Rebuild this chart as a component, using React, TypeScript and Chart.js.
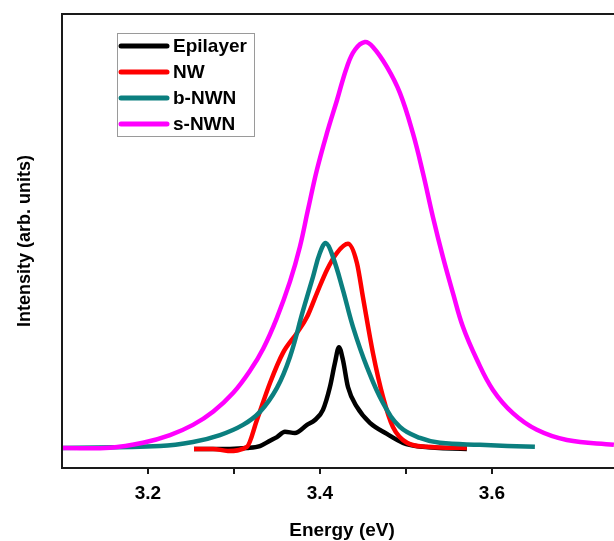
import React, { useEffect, useRef } from "react";
import { Chart, registerables } from "chart.js";

Chart.register(...registerables);

const seriesNames = ["Epilayer", "NW", "b-NWN", "s-NWN"];
const seriesColors = ["#000000", "#ff0000", "#0b7f7f", "#ff00ff"];

const energyEpi = [3.2535, 3.2953, 3.3151, 3.3302, 3.3419, 3.35, 3.3593, 3.3709, 3.3849, 3.3942, 3.4035, 3.4116, 3.4174, 3.4221, 3.4267, 3.4326, 3.443, 3.4581, 3.4779, 3.4965, 3.5198, 3.5709];
const intensityEpi = [0.0, 0.0, 0.002, 0.007, 0.02, 0.029, 0.042, 0.039, 0.059, 0.071, 0.096, 0.152, 0.211, 0.25, 0.219, 0.152, 0.103, 0.064, 0.037, 0.015, 0.005, 0.0];

const energyNW = [3.2535, 3.2756, 3.293, 3.3151, 3.3267, 3.3419, 3.357, 3.3733, 3.3849, 3.3965, 3.4081, 3.4198, 3.4326, 3.443, 3.45, 3.4616, 3.4733, 3.4849, 3.5012, 3.5244, 3.5709];
const intensityNW = [0.0, 0.0, -0.005, 0.005, 0.071, 0.162, 0.236, 0.285, 0.324, 0.383, 0.44, 0.482, 0.504, 0.457, 0.373, 0.236, 0.128, 0.054, 0.015, 0.005, 0.002];

const energyBNWN = [3.1, 3.214, 3.2523, 3.2837, 3.3105, 3.3302, 3.35, 3.3651, 3.3802, 3.3919, 3.4, 3.407, 3.4151, 3.4267, 3.4384, 3.4547, 3.4733, 3.493, 3.5163, 3.5395, 3.586, 3.65];
const intensityBNWN = [0.002, 0.007, 0.017, 0.034, 0.059, 0.091, 0.15, 0.226, 0.339, 0.423, 0.482, 0.506, 0.472, 0.391, 0.3, 0.201, 0.113, 0.054, 0.027, 0.015, 0.01, 0.005];

const energySNWN = [3.1, 3.1558, 3.1942, 3.2256, 3.2523, 3.276, 3.2992, 3.3186, 3.3341, 3.3497, 3.3651, 3.3767, 3.386, 3.3965, 3.4081, 3.4198, 3.4314, 3.4407, 3.4523, 3.4616, 3.4779, 3.493, 3.5081, 3.5198, 3.5314, 3.543, 3.5547, 3.5663, 3.5826, 3.6012, 3.6244, 3.6523, 3.6872, 3.7419];
const intensitySNWN = [0.002, 0.003, 0.015, 0.034, 0.059, 0.092, 0.138, 0.192, 0.247, 0.321, 0.411, 0.497, 0.587, 0.686, 0.776, 0.857, 0.939, 0.981, 1.0, 0.988, 0.939, 0.875, 0.776, 0.678, 0.57, 0.472, 0.383, 0.3, 0.219, 0.145, 0.088, 0.047, 0.022, 0.01];

const energyTickLabels = ["3.2", "3.4", "3.6"];

const X_MIN = 3.1;
const X_MAX = 3.742;
const Y_MIN = -0.047;
const Y_MAX = 1.069;

const FONT = '"Liberation Sans", Arial, sans-serif';

const framePlugin = {
  id: "framePlugin",
  afterDraw(chart: any) {
    const { ctx, chartArea } = chart;
    ctx.save();
    ctx.strokeStyle = "#1a1a1a";
    ctx.lineWidth = 2;
    ctx.beginPath();
    ctx.moveTo(chartArea.left, chartArea.bottom);
    ctx.lineTo(chartArea.left, chartArea.top);
    ctx.lineTo(chartArea.right + 2, chartArea.top);
    ctx.stroke();

    ctx.fillStyle = "#000";
    ctx.font = `bold 19px ${FONT}`;
    ctx.textAlign = "center";
    ctx.textBaseline = "alphabetic";
    ctx.fillText("Energy (eV)", 342, 536);

    ctx.save();
    ctx.translate(30, (chartArea.top + chartArea.bottom) / 2);
    ctx.rotate(-Math.PI / 2);
    ctx.font = `bold 18px ${FONT}`;
    ctx.fillText("Intensity (arb. units)", 0, 0);
    ctx.restore();

    const bx = 117, by = 33, bw = 137, bh = 103;
    ctx.strokeStyle = "#9a9a9a";
    ctx.lineWidth = 1;
    ctx.strokeRect(bx + 0.5, by + 0.5, bw, bh);
    const rows = [46, 72, 98, 124];
    ctx.font = `bold 19px ${FONT}`;
    ctx.textAlign = "left";
    ctx.textBaseline = "middle";
    chart.data.datasets.forEach((ds: any, i: number) => {
      const y = rows[i];
      ctx.strokeStyle = ds.borderColor;
      ctx.lineWidth = 5;
      ctx.lineCap = "round";
      ctx.beginPath();
      ctx.moveTo(121, y);
      ctx.lineTo(167, y);
      ctx.stroke();
      ctx.fillStyle = "#000";
      ctx.fillText(ds.label, 173, y + 1);
    });
    ctx.restore();
  },
};

export default function App() {
  const ref = useRef<HTMLCanvasElement | null>(null);
  useEffect(() => {
    document.body.style.margin = "0";
    document.body.style.overflow = "hidden";
    const xs = [energyEpi, energyNW, energyBNWN, energySNWN];
    const ys = [intensityEpi, intensityNW, intensityBNWN, intensitySNWN];
    const datasets = seriesNames.map((name, i) => ({
      label: name,
      data: xs[i].map((e, j) => ({ x: e, y: ys[i][j] })),
      borderColor: seriesColors[i],
      backgroundColor: seriesColors[i],
      borderWidth: 4.5,
      pointRadius: 0,
      fill: false,
      ...(i >= 2 ? { tension: 0.4 } : { cubicInterpolationMode: "monotone" as const }),
      order: 4 - i,
    }));
    const chart = new Chart(ref.current as HTMLCanvasElement, {
      type: "line",
      data: { datasets },
      options: {
        animation: false,
        responsive: false,
        maintainAspectRatio: false,
        layout: { padding: { top: 14, left: 62, right: 0, bottom: 0 } },
        plugins: { legend: { display: false }, tooltip: { enabled: false } },
        scales: {
          x: {
            type: "linear",
            min: X_MIN,
            max: X_MAX,
            afterBuildTicks: (scale: any) => {
              scale.ticks = scale.ticks.filter((t: any) => {
                const v = t.value * 10;
                return Math.abs(v - Math.round(v)) < 1e-6 && t.value > X_MIN + 0.01 && t.value < X_MAX - 0.01;
              });
            },
            afterFit: (scale: any) => {
              scale.height = 73;
            },
            ticks: {
              stepSize: 0.1,
              autoSkip: false,
              maxRotation: 0,
              padding: 8,
              color: "#000",
              font: { family: FONT, size: 19, weight: "bold" },
              callback: (v: any) => {
                const s = Number(v).toFixed(1);
                return energyTickLabels.includes(s) ? s : "";
              },
            },
            grid: {
              display: true,
              drawOnChartArea: false,
              drawTicks: true,
              tickLength: 6,
              color: "#1a1a1a",
              lineWidth: 2,
            },
            border: { display: true, color: "#1a1a1a", width: 2 },
          },
          y: {
            type: "linear",
            min: Y_MIN,
            max: Y_MAX,
            display: false,
          },
        },
      },
      plugins: [framePlugin],
    });
    return () => chart.destroy();
  }, []);
  return (
    <div style={{ width: 614, height: 541 }}>
      <canvas ref={ref} width={614} height={541} style={{ display: "block" }} />
    </div>
  );
}
